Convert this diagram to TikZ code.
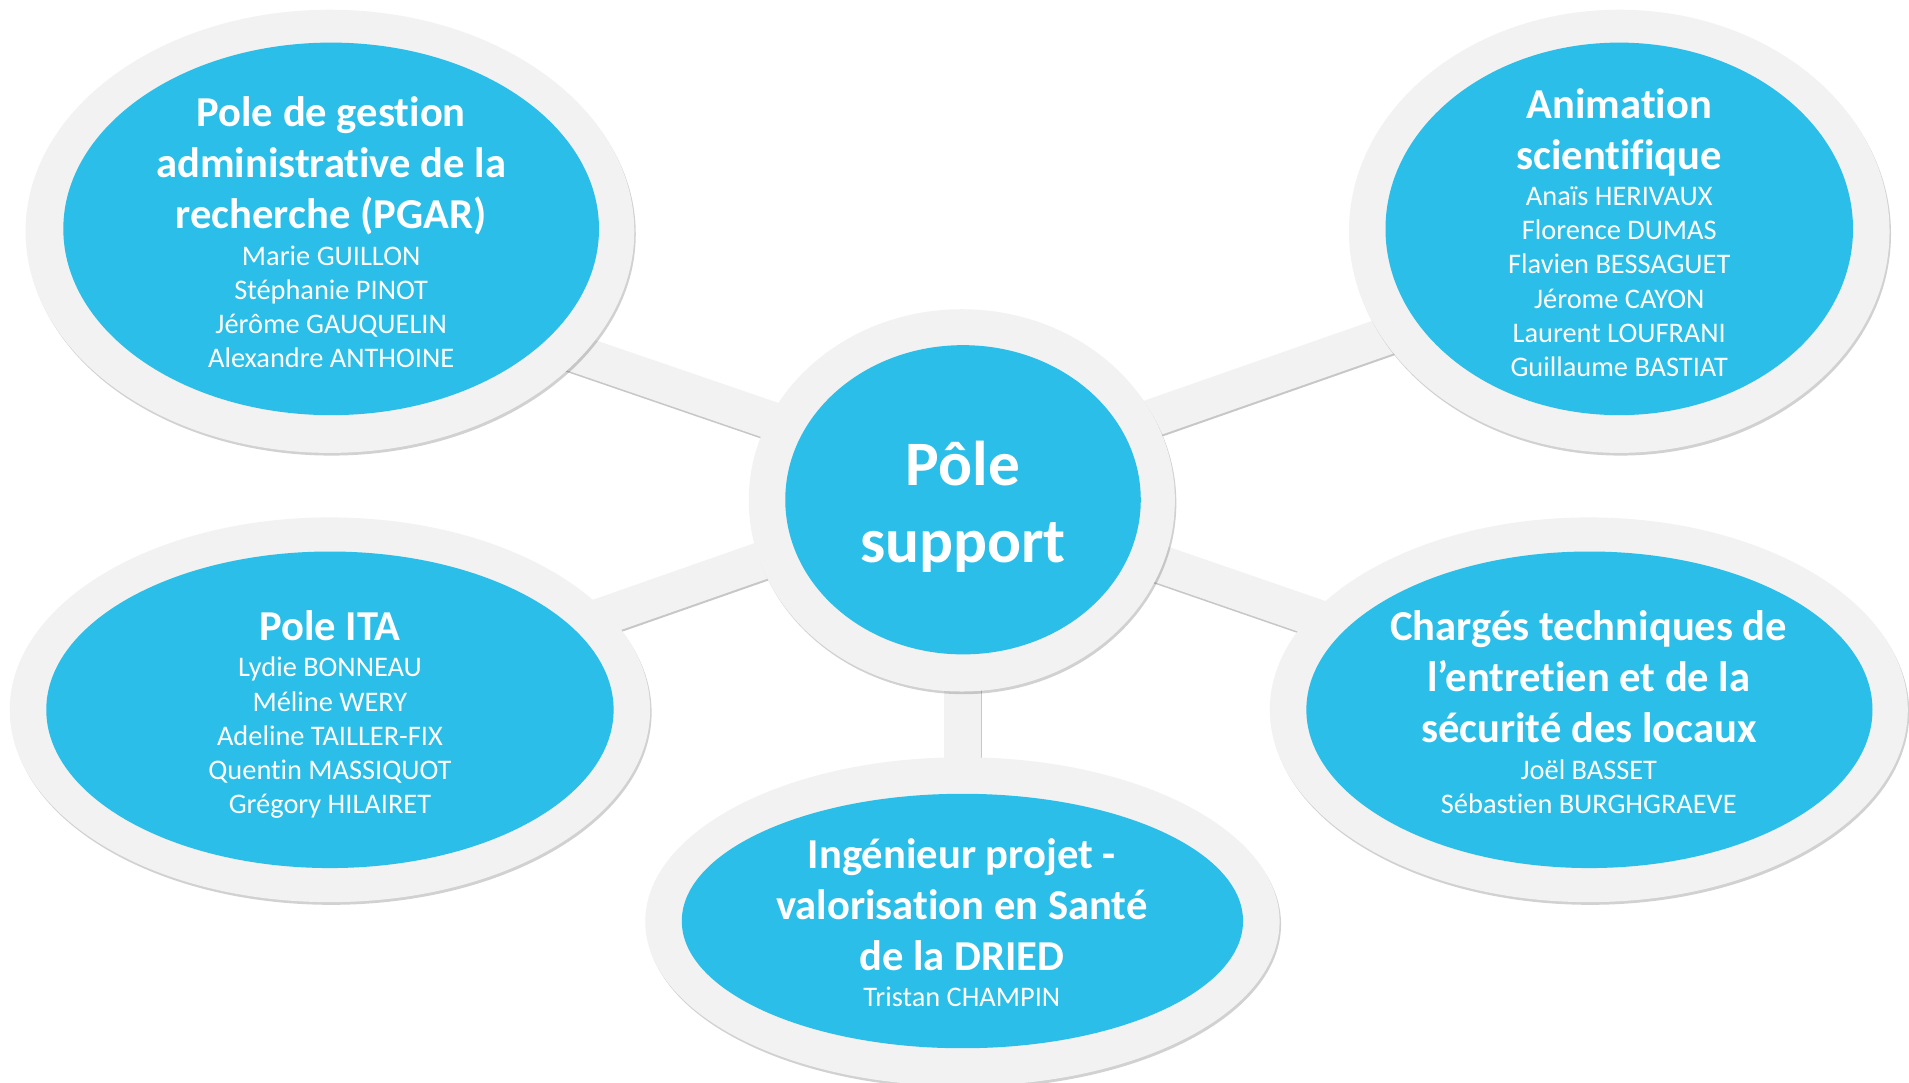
\documentclass[tikz,border=0pt]{standalone}
\usepackage{fontspec}
\setmainfont{Carlito}[Ligatures=NoCommon]
\usetikzlibrary{shapes.geometric,shadows}
\pgfdeclarelayer{background}
\pgfsetlayers{background,main}
\definecolor{ringgray}{HTML}{F2F2F2}
\definecolor{bubble}{RGB}{43,190,232}
\newcommand{\ttlfont}{\bfseries\fontsize{35}{42}\selectfont}
\newcommand{\namefont}{\fontsize{23.3}{28}\selectfont}
\newcommand{\ctrfont}{\bfseries\fontsize{52}{63}\selectfont}
\newcommand{\stk}[1]{\begin{tabular}[t]{@{}c@{}}#1\end{tabular}}
\tikzset{
  ring/.style={ellipse, fill=ringgray, inner sep=0pt, draw=none,
    drop shadow={shadow xshift=1.2pt, shadow yshift=-2.2pt, fill=black, opacity=0.18}},
  bubblefill/.style={ellipse, fill=bubble, inner sep=0pt, draw=none},
  txt/.style={text=white, inner sep=0pt, anchor=base},
  bar/.style={line width=31pt, draw=ringgray},
  barshadow/.style={line width=31pt, draw=black!22, transform canvas={xshift=0.6pt,yshift=-1.6pt}},
}
\begin{document}
\begin{tikzpicture}[x=1pt,y=1pt]
\useasboundingbox (0,0) rectangle (1568,889);
% center
\node[ring, minimum width=350pt, minimum height=314pt] (ctrO) at (790,478) {};
\node[bubblefill, minimum width=292pt, minimum height=254pt] (ctr) at (791,478.5) {};
\node[txt] (ctrT) at (791,490) {\ctrfont\stk{Pôle\\support}};
% PGAR
\node[ring, minimum width=500pt, minimum height=364pt] (pgarO) at (271,699) {};
\node[bubblefill, minimum width=440pt, minimum height=306pt] (pgar) at (272,701) {};
\node[txt] (pgarT) at (272,785) {\ttlfont\stk{Pole de gestion\\administrative de la\\recherche (PGAR)}};
\node[txt] (pgarN) at (272,671) {\namefont\stk{Marie GUILLON\\Stéphanie PINOT\\Jérôme GAUQUELIN\\Alexandre ANTHOINE}};
% Animation
\node[ring, minimum width=444pt, minimum height=364pt] (animO) at (1330,699) {};
\node[bubblefill, minimum width=384pt, minimum height=306pt] (anim) at (1330,701) {};
\node[txt] (animT) at (1330,792) {\ttlfont\stk{Animation\\scientifique}};
\node[txt] (animN) at (1330,720) {\namefont\stk{Anaïs HERIVAUX\\Florence DUMAS\\Flavien BESSAGUET\\Jérome CAYON\\Laurent LOUFRANI\\Guillaume BASTIAT}};
% ITA
\node[ring, minimum width=526pt, minimum height=316pt] (itaO) at (271,306) {};
\node[bubblefill, minimum width=466pt, minimum height=260pt] (ita) at (271,306) {};
\node[txt] (itaT) at (271,363) {\ttlfont\stk{Pole ITA}};
\node[txt] (itaN) at (271,333) {\namefont\stk{Lydie BONNEAU\\Méline WERY\\Adeline TAILLER-FIX\\Quentin MASSIQUOT\\Grégory HILAIRET}};
% Charges
\node[ring, minimum width=524pt, minimum height=316pt] (chgO) at (1305,306) {};
\node[bubblefill, minimum width=465pt, minimum height=260pt] (chg) at (1305.5,306) {};
\node[txt] (chgT) at (1305,363) {\ttlfont\stk{Chargés techniques de\\l’entretien et de la\\sécurité des locaux}};
\node[txt] (chgN) at (1305,249) {\namefont\stk{Joël BASSET\\Sébastien BURGHGRAEVE}};
% Ingenieur
\node[ring, minimum width=521pt, minimum height=270pt] (ingO) at (790.5,132) {};
\node[bubblefill, minimum width=461pt, minimum height=209pt] (ing) at (790.5,132.5) {};
\node[txt] (ingT) at (790,176) {\ttlfont\stk{Ingénieur projet -\\valorisation en Santé\\de la DRIED}};
\node[txt] (ingN) at (790,62) {\namefont\stk{Tristan CHAMPIN}};
% connectors
\begin{pgfonlayer}{background}
\fill[white] (0,0) rectangle (1568,889);
\foreach \s in {barshadow,bar}{
  \draw[\s] ([shift={(-1,11.5)}]ctr.center) -- ([shift={(28,-43)}]pgar.center);
  \draw[\s] ([shift={(-1,12.5)}]ctr.center) -- ([shift={(-30,-31.5)}]anim.center);
  \draw[\s] ([shift={(-1,7.5)}]ctr.center) -- ([shift={(29,8.5)}]ita.center);
  \draw[\s] ([shift={(-1,3.5)}]ctr.center) -- ([shift={(-5.5,0)}]chg.center);
  \draw[\s] ([shift={(-0.5,0)}]ctr.center) -- (ing.center);
}
\end{pgfonlayer}
\end{tikzpicture}
\end{document}
